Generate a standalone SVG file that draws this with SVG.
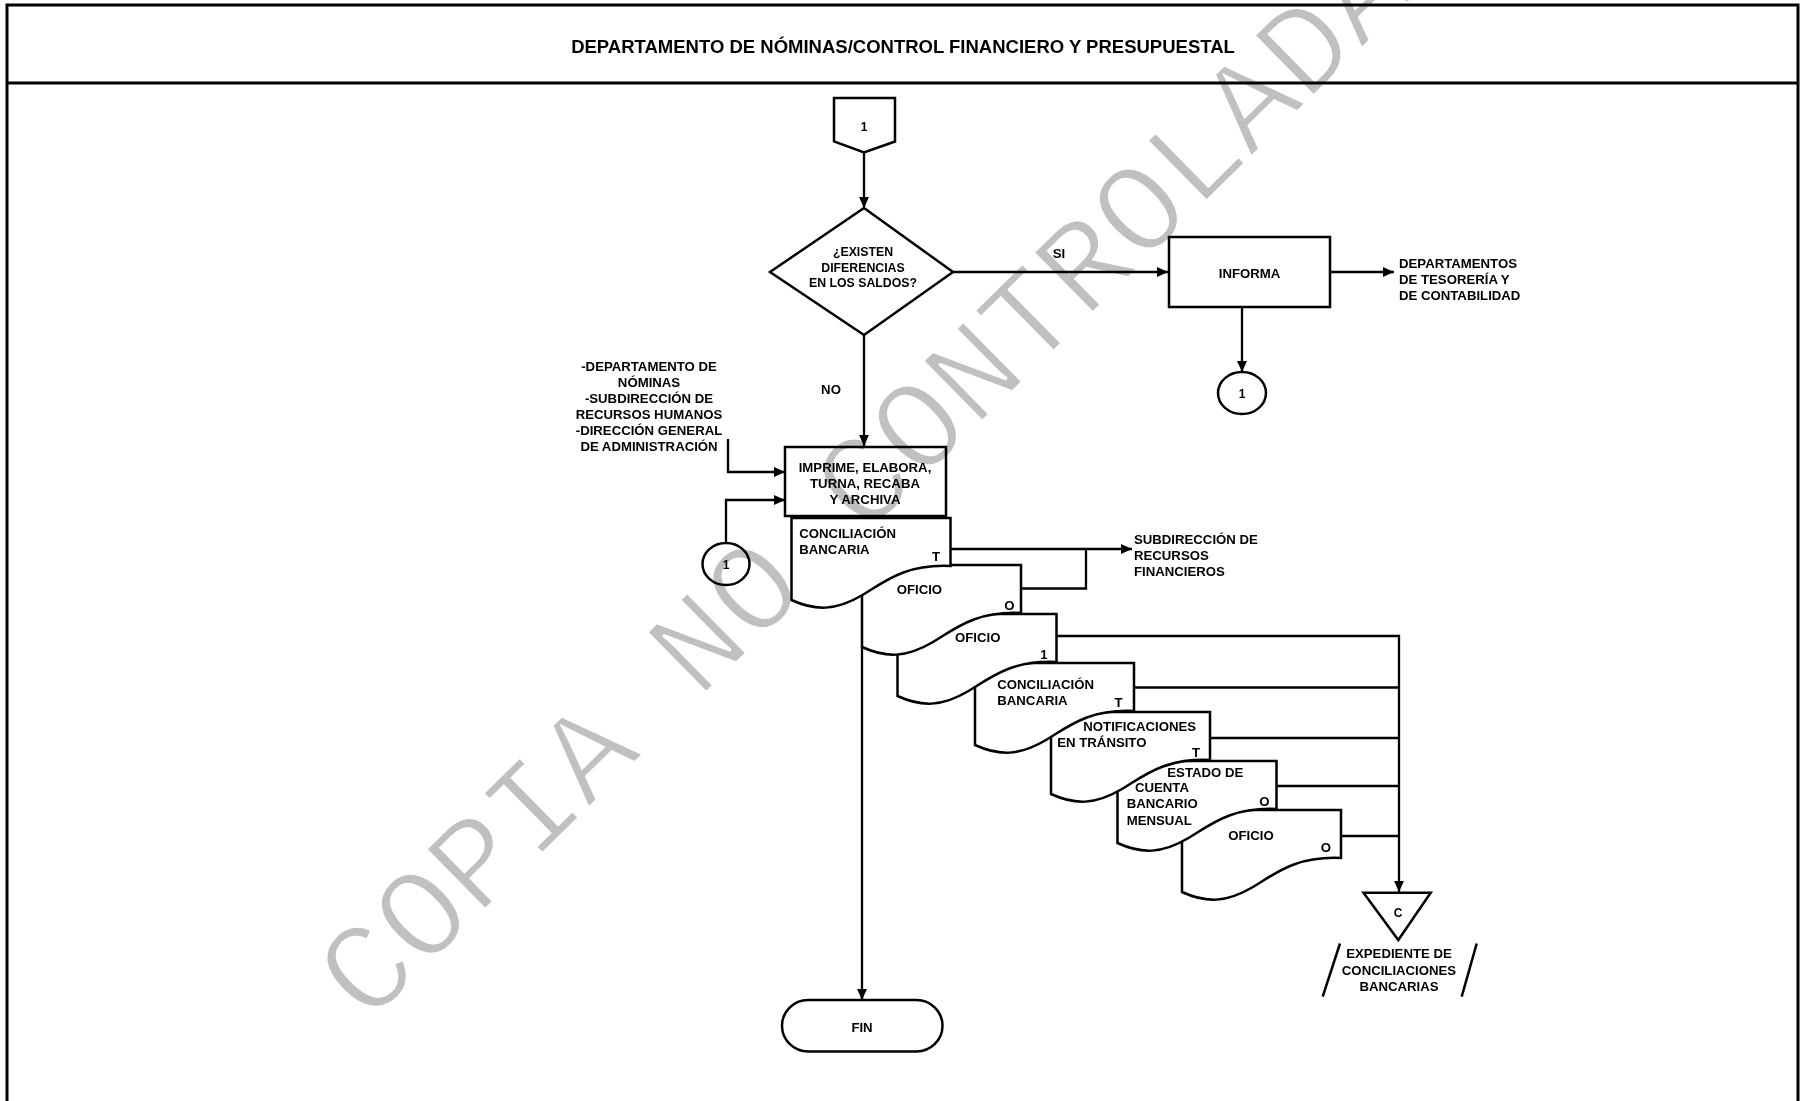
<svg xmlns="http://www.w3.org/2000/svg" xmlns:xlink="http://www.w3.org/1999/xlink" width="1802" height="1101" viewBox="0 0 1802 1101">
  <style>
    .t { font-family: "Liberation Sans", Arial, sans-serif; font-weight: bold; font-size: 13.2px; fill: #000; }
    .tc { text-anchor: middle; }
    .shape { fill: none; stroke: #000; stroke-width: 2.5; }
    .doc { fill: #fff; stroke: #000; stroke-width: 2.5; stroke-linejoin: miter; }
    .frame { fill: none; stroke: #000; stroke-width: 3; }
    .wire { fill: none; stroke: #000; stroke-width: 2.3; }
    .arrow { marker-end: url(#head); }
    .wm { font-family: "Liberation Mono", "Courier New", monospace; font-size: 129px; fill: #c0c0c0; stroke: #fff; stroke-width: 3; mix-blend-mode: multiply; }
  </style>
  <defs>
    <marker id="head" viewBox="0 0 10 10" refX="10" refY="5" markerWidth="11" markerHeight="11" markerUnits="userSpaceOnUse" orient="auto">
      <path d="M0,0.5 L10,5 L0,9.5 Z" fill="#000"/>
    </marker>
    <!-- document symbol: flat top, wavy bottom rising to the right -->
    <path id="docShape" d="M0,0 H159 V48 C114,46 94,63 71,77 C44,93 24,93 0,82 Z"/>
  </defs>

  <rect width="1802" height="1101" fill="#fff"/>

  <!-- page frame and header -->
  <g id="frame">
    <path class="frame" d="M7,1101 V5 H1798 V1101"/>
    <line class="frame" x1="7" y1="83" x2="1798" y2="83"/>
    <text class="t tc" x="903" y="52.5" style="font-size:18.5px">DEPARTAMENTO DE NÓMINAS/CONTROL FINANCIERO Y PRESUPUESTAL</text>
  </g>

  <!-- connectors -->
  <g id="connectors">
    <line class="wire arrow" x1="864" y1="153" x2="864" y2="208"/>
    <line class="wire arrow" x1="953" y1="272" x2="1168" y2="272"/>
    <line class="wire arrow" x1="864" y1="335" x2="864" y2="446"/>
    <line class="wire arrow" x1="1330" y1="272" x2="1394" y2="272"/>
    <line class="wire arrow" x1="1242" y1="307" x2="1242" y2="372"/>
    <polyline class="wire arrow" points="728,439 728,472 785,472"/>
    <polyline class="wire arrow" points="726,543 726,500 785,500"/>
    <line class="wire arrow" x1="950" y1="549" x2="1132" y2="549"/>
    <polyline class="wire" points="1021,588.5 1086,588.5 1086,549"/>
    <line class="wire arrow" x1="862" y1="647" x2="862" y2="1000"/>
    <polyline class="wire arrow" points="1057,636 1399,636 1399,892"/>
    <line class="wire" x1="1134" y1="687.5" x2="1399" y2="687.5"/>
    <line class="wire" x1="1210" y1="738" x2="1399" y2="738"/>
    <line class="wire" x1="1277" y1="786" x2="1399" y2="786"/>
    <line class="wire" x1="1341" y1="836" x2="1399" y2="836"/>
  </g>

  <!-- off-page connector 1 -->
  <g id="offpage1">
    <polygon class="shape" points="834,98 895,98 895,141.5 864,152.5 834,141.5"/>
    <text class="t tc" x="864" y="131" style="font-size:12px">1</text>
  </g>

  <!-- decision -->
  <g id="decision">
    <polygon class="shape" points="864,208 953,272 864,335 770,272"/>
    <text class="t tc" x="863" y="256" style="font-size:12.3px">¿EXISTEN</text>
    <text class="t tc" x="863" y="272" style="font-size:12.3px">DIFERENCIAS</text>
    <text class="t tc" x="863" y="287" style="font-size:12.3px">EN LOS SALDOS?</text>
    <text class="t tc" x="1059" y="257.5">SI</text>
    <text class="t tc" x="831" y="394">NO</text>
  </g>

  <!-- informa -->
  <g id="informa">
    <rect class="shape" x="1169" y="237" width="161" height="70"/>
    <text class="t tc" x="1249.5" y="277.5">INFORMA</text>
  </g>

  <g id="deptTesoreria">
    <text class="t" x="1399" y="268">DEPARTAMENTOS</text>
    <text class="t" x="1399" y="284">DE TESORERÍA Y</text>
    <text class="t" x="1399" y="300">DE CONTABILIDAD</text>
  </g>

  <g id="connector1Right">
    <ellipse class="shape" cx="1242" cy="393" rx="24" ry="21"/>
    <text class="t tc" x="1242" y="397.5" style="font-size:12px">1</text>
  </g>

  <!-- sources of the documents -->
  <g id="sources">
    <text class="t tc" x="649" y="371.4">-DEPARTAMENTO DE</text>
    <text class="t tc" x="649" y="387.3">NÓMINAS</text>
    <text class="t tc" x="649" y="403.2">-SUBDIRECCIÓN DE</text>
    <text class="t tc" x="649" y="419.1">RECURSOS HUMANOS</text>
    <text class="t tc" x="649" y="435">-DIRECCIÓN GENERAL</text>
    <text class="t tc" x="649" y="450.9">DE ADMINISTRACIÓN</text>
  </g>

  <g id="connector1Left">
    <ellipse class="shape" cx="726" cy="564" rx="23.5" ry="21"/>
    <text class="t tc" x="726" y="568.5" style="font-size:12px">1</text>
  </g>

  <!-- process -->
  <g id="imprime">
    <rect class="shape" x="785" y="447" width="161" height="69"/>
    <text class="t tc" x="865" y="472">IMPRIME, ELABORA,</text>
    <text class="t tc" x="865" y="488">TURNA, RECABA</text>
    <text class="t tc" x="865" y="503.7">Y ARCHIVA</text>
  </g>

  <!-- document stack, back to front -->
  <g id="doc7">
    <use href="#docShape" class="doc" x="1182" y="810"/>
    <text class="t" x="1228.3" y="839.7">OFICIO</text>
    <text class="t tc" x="1326" y="852.4">O</text>
  </g>
  <g id="doc6">
    <use href="#docShape" class="doc" x="1117.5" y="761"/>
    <text class="t" x="1167.3" y="777">ESTADO DE</text>
    <text class="t" x="1135" y="792.4">CUENTA</text>
    <text class="t" x="1126.7" y="808">BANCARIO</text>
    <text class="t" x="1126.7" y="824.7">MENSUAL</text>
    <text class="t tc" x="1264.5" y="806.4">O</text>
  </g>
  <g id="doc5">
    <use href="#docShape" class="doc" x="1051" y="712"/>
    <text class="t" x="1083.3" y="731.4">NOTIFICACIONES</text>
    <text class="t" x="1057.3" y="747">EN TRÁNSITO</text>
    <text class="t tc" x="1196" y="757.4">T</text>
  </g>
  <g id="doc4">
    <use href="#docShape" class="doc" x="975" y="663"/>
    <text class="t" x="997.3" y="688.7">CONCILIACIÓN</text>
    <text class="t" x="997.3" y="704.7">BANCARIA</text>
    <text class="t tc" x="1118.5" y="707.4">T</text>
  </g>
  <g id="doc3">
    <use href="#docShape" class="doc" x="897.5" y="614"/>
    <text class="t" x="955" y="642">OFICIO</text>
    <text class="t tc" x="1044" y="658.7">1</text>
  </g>
  <g id="doc2">
    <use href="#docShape" class="doc" x="862" y="565"/>
    <text class="t" x="896.7" y="594">OFICIO</text>
    <text class="t tc" x="1009.3" y="609.7">O</text>
  </g>
  <g id="doc1">
    <use href="#docShape" class="doc" x="791.5" y="518"/>
    <text class="t" x="799.3" y="538">CONCILIACIÓN</text>
    <text class="t" x="799.3" y="554">BANCARIA</text>
    <text class="t tc" x="936" y="561.4">T</text>
  </g>

  <g id="subdFinancieros">
    <text class="t" x="1134" y="544">SUBDIRECCIÓN DE</text>
    <text class="t" x="1134" y="559.7">RECURSOS</text>
    <text class="t" x="1134" y="575.7">FINANCIEROS</text>
  </g>

  <!-- end -->
  <g id="fin">
    <rect class="shape" x="782" y="1000" width="160.5" height="51.5" rx="26" ry="25.75"/>
    <text class="t tc" x="862" y="1032.4">FIN</text>
  </g>

  <!-- archive -->
  <g id="archivo">
    <polygon class="shape" points="1363.5,892.7 1430.7,892.7 1398.3,940"/>
    <text class="t tc" x="1398" y="917.4" style="font-size:12px">C</text>
    <line class="shape" x1="1340" y1="943.5" x2="1322.7" y2="996.7"/>
    <line class="shape" x1="1476.7" y1="943.5" x2="1461.7" y2="996.7"/>
    <text class="t tc" x="1399" y="958">EXPEDIENTE DE</text>
    <text class="t tc" x="1399" y="974.7">CONCILIACIONES</text>
    <text class="t tc" x="1399" y="991.4">BANCARIAS</text>
  </g>

  <!-- control stamp across the sheet -->
  <text class="wm" transform="translate(892.2,510.1) rotate(-44.5)" text-anchor="middle">COPIA NO CONTROLADA</text>
</svg>
